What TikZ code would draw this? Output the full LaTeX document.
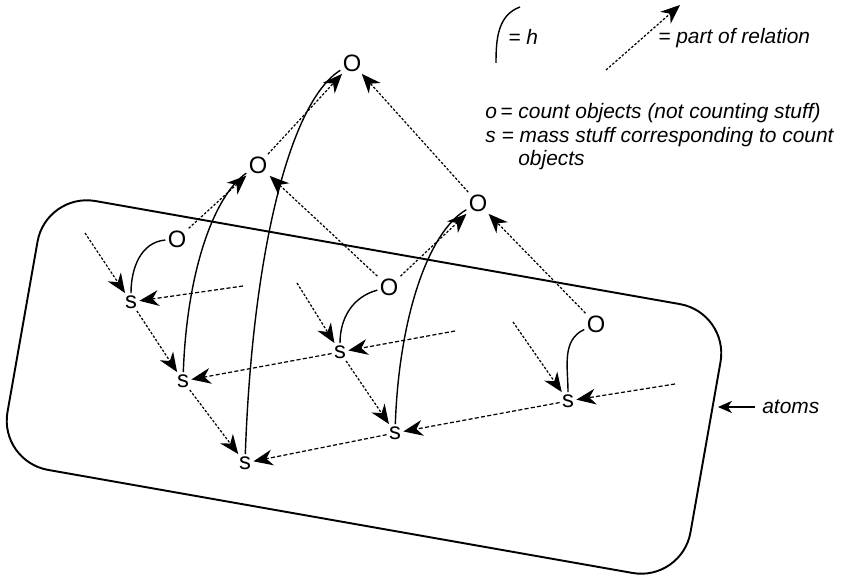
\documentclass[tikz,border=0pt]{standalone}
\usepackage{fontspec}
\setmainfont{Liberation Sans}
\usepackage{tikz}
\usetikzlibrary{shapes,arrows,arrows.meta,positioning,fit,calc}

\tikzset{
    letter/.style={inner sep=1.2pt, font=\fontsize{13.5}{16}\selectfont},
    keytext/.style={inner sep=0pt, font=\fontsize{11.9}{14}\selectfont\itshape},
    hlink/.style={line width=0.8pt},
    bigtip/.style={-{Stealth[length=11pt,width=9pt,inset=3.5pt]}},
    partof/.style={line width=0.7pt, dash pattern=on 1.4pt off 1pt, bigtip},
    across/.style={partof, dash pattern=on 2.3pt off 1.3pt},
}

\begin{document}
\begin{tikzpicture}
    \useasboundingbox (0,0) rectangle (16.86,11.54);

    % the atoms
    \node[draw, line width=1.1pt, rounded corners=1cm, minimum width=13.87cm, minimum height=5.46cm, rotate=-10] (atomsbox) at (7.28,3.80) {};

    % count objects
    \node[letter] (Otop) at (7.04,10.28) {O};
    \node[letter] (O2) at (5.16,8.24) {O};
    \node[letter] (O3) at (9.56,7.48) {O};
    \node[letter] (O1) at (3.54,6.76) {O};
    \node[letter] (O4) at (7.78,5.80) {O};
    \node[letter] (O5) at (11.92,5.06) {O};

    % mass stuff
    \node[letter] (s1) at (2.62,5.50) {s};
    \node[letter] (s2) at (3.66,3.92) {s};
    \node[letter] (s3) at (6.80,4.50) {s};
    \node[letter] (s4) at (4.90,2.28) {s};
    \node[letter] (s5) at (7.90,2.88) {s};
    \node[letter] (s6) at (11.36,3.52) {s};

    % loose ends
    \coordinate (a1) at (1.70,6.88);
    \coordinate (b1) at (4.86,5.82);
    \coordinate (a3) at (5.94,5.88);
    \coordinate (b3) at (9.10,4.92);
    \coordinate (a6) at (10.26,5.10);
    \coordinate (b6) at (13.50,3.86);

    % h
    \draw[hlink] (s1) to[out=90,in=185] (O1);
    \draw[hlink] (s2) to[out=88,in=215,out looseness=1.2,in looseness=0.5] (O2);
    \draw[hlink] (s4) to[out=88,in=212,out looseness=1.25,in looseness=0.4] (Otop);
    \draw[hlink] (s3) to[out=90,in=195] (O4);
    \draw[hlink] (s5) to[out=88,in=210,out looseness=1.2,in looseness=0.5] (O3);
    \draw[hlink] (s6) to[out=90,in=205] (O5);

    % part of, objects
    \draw[partof] (O1) -- (O2);
    \draw[partof] (O4) -- (O2);
    \draw[partof] (O2) -- (Otop);
    \draw[partof] (O3) -- (Otop);
    \draw[partof] (O4) -- (O3);
    \draw[partof] (O5) -- (O3);

    % part of, stuff
    \draw[partof] (a1) -- (s1);
    \draw[partof] (s1) -- (s2);
    \draw[partof] (s2) -- (s4);
    \draw[partof] (a3) -- (s3);
    \draw[partof] (s3) -- (s5);
    \draw[partof] (a6) -- (s6);
    \draw[across] (b1) -- (s1);
    \draw[across] (s3) -- (s2);
    \draw[across] (s5) -- (s4);
    \draw[across] (b3) -- (s3);
    \draw[across] (s6) -- (s5);
    \draw[across] (b6) -- (s6);

    % atoms label
    \node[keytext, anchor=west, inner xsep=0.14cm] (atoms) at (15.10,3.40) {atoms};
    \coordinate (atomsedge) at (14.36,3.40);
    \draw[line width=0.8pt, -{Stealth[length=8pt,width=7pt,inset=2.5pt]}] (atoms.west) -- (atoms.west -| atomsedge);

    % key
    \coordinate (hkeylow) at (9.92,10.28);
    \coordinate (hkeyhigh) at (10.40,11.40);
    \draw[hlink] (hkeylow) to[out=90,in=200] (hkeyhigh);
    \node[keytext, anchor=base west] (hkey) at (10.16,10.64) {= h};

    \coordinate (pkeylow) at (12.12,10.14);
    \coordinate (pkeyhigh) at (13.60,11.44);
    \draw[partof] (pkeylow) -- (pkeyhigh);
    \node[keytext, anchor=base west] (pkey) at (13.16,10.66) {= part of relation};

    \node[keytext, anchor=base west] (okey) at (9.70,9.16) {o\,= count objects (not counting stuff)};
    \node[keytext, anchor=base west] (skey) at (9.70,8.69) {s = mass stuff corresponding to count};
    \node[keytext, anchor=base west] (skeymore) at (10.36,8.22) {objects};

\end{tikzpicture}
\end{document}
